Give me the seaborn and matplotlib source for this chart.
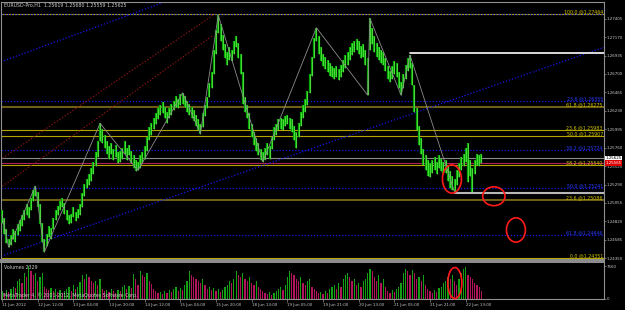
import numpy as np
import pandas as pd
import matplotlib
matplotlib.use("Agg")
import matplotlib.pyplot as plt
import seaborn as sns
from matplotlib.patches import Ellipse
from matplotlib.transforms import blended_transform_factory

# EURUSD-Pro H1 bars, first visible bar = 11 Jun 2012 20:00
lows = [
    1.2480, 1.2466, 1.2454, 1.2449, 1.2452, 1.2460, 1.2456, 1.2464, 1.2470, 1.2476,
    1.2484, 1.2490, 1.2486, 1.2496, 1.2508, 1.2514, 1.2500, 1.2478, 1.2456, 1.2443,
    1.2450, 1.2462, 1.2460, 1.2472, 1.2484, 1.2490, 1.2496, 1.2500, 1.2492, 1.2484,
    1.2478, 1.2480, 1.2488, 1.2482, 1.2486, 1.2490, 1.2500, 1.2514, 1.2524, 1.2528,
    1.2534, 1.2542, 1.2552, 1.2564, 1.2584, 1.2582, 1.2576, 1.2568, 1.2562, 1.2568,
    1.2560, 1.2564, 1.2556, 1.2558, 1.2562, 1.2568, 1.2560, 1.2566, 1.2556, 1.2550,
    1.2546, 1.2547, 1.2550, 1.2556, 1.2562, 1.2572, 1.2586, 1.2592, 1.2600, 1.2606,
    1.2612, 1.2618, 1.2620, 1.2614, 1.2608, 1.2614, 1.2618, 1.2624, 1.2628, 1.2626,
    1.2630, 1.2632, 1.2628, 1.2622, 1.2618, 1.2614, 1.2610, 1.2604, 1.2598, 1.2594,
    1.2602, 1.2616, 1.2626, 1.2640, 1.2652, 1.2670, 1.2696, 1.2722, 1.2712, 1.2700,
    1.2690, 1.2682, 1.2688, 1.2686, 1.2696, 1.2704, 1.2690, 1.2670, 1.2632, 1.2622,
    1.2614, 1.2600, 1.2590, 1.2580, 1.2572, 1.2566, 1.2560, 1.2558, 1.2560, 1.2566,
    1.2562, 1.2574, 1.2586, 1.2592, 1.2598, 1.2600, 1.2598, 1.2604, 1.2606, 1.2600,
    1.2596, 1.2586, 1.2575, 1.2590, 1.2604, 1.2614, 1.2622, 1.2630, 1.2646, 1.2668,
    1.2690, 1.2712, 1.2696, 1.2686, 1.2680, 1.2676, 1.2672, 1.2668, 1.2666, 1.2664,
    1.2666, 1.2662, 1.2666, 1.2672, 1.2678, 1.2682, 1.2688, 1.2694, 1.2698, 1.2700,
    1.2696, 1.2690, 1.2692, 1.2682, 1.2643, 1.2700, 1.2708, 1.2698, 1.2692, 1.2688,
    1.2684, 1.2682, 1.2674, 1.2664, 1.2660, 1.2664, 1.2670, 1.2666, 1.2652, 1.2643,
    1.2652, 1.2664, 1.2674, 1.2678, 1.2656, 1.2622, 1.2598, 1.2580, 1.2568, 1.2554,
    1.2548, 1.2540, 1.2538, 1.2544, 1.2548, 1.2542, 1.2550, 1.2546, 1.2542, 1.2544,
    1.2534, 1.2524, 1.2522, 1.2519, 1.2528, 1.2538, 1.2548, 1.2552, 1.2558, 1.2532,
    1.2540, 1.2519, 1.2542, 1.2554, 1.2552, 1.2556,
]
highs = [
    1.2496, 1.2486, 1.2472, 1.2460, 1.2464, 1.2472, 1.2470, 1.2478, 1.2484, 1.2490,
    1.2496, 1.2504, 1.2500, 1.2512, 1.2522, 1.2527, 1.2520, 1.2504, 1.2480, 1.2460,
    1.2466, 1.2476, 1.2474, 1.2486, 1.2496, 1.2502, 1.2508, 1.2512, 1.2506, 1.2496,
    1.2490, 1.2492, 1.2500, 1.2494, 1.2498, 1.2504, 1.2518, 1.2530, 1.2536, 1.2542,
    1.2550, 1.2558, 1.2570, 1.2584, 1.2607, 1.2600, 1.2592, 1.2584, 1.2578, 1.2582,
    1.2574, 1.2580, 1.2570, 1.2572, 1.2576, 1.2584, 1.2576, 1.2580, 1.2572, 1.2566,
    1.2560, 1.2558, 1.2566, 1.2570, 1.2578, 1.2590, 1.2602, 1.2608, 1.2614, 1.2620,
    1.2626, 1.2630, 1.2634, 1.2628, 1.2622, 1.2626, 1.2632, 1.2636, 1.2642, 1.2638,
    1.2644, 1.2646, 1.2642, 1.2636, 1.2632, 1.2628, 1.2624, 1.2618, 1.2612, 1.2606,
    1.2620, 1.2630, 1.2640, 1.2658, 1.2672, 1.2700, 1.2726, 1.2745, 1.2734, 1.2720,
    1.2708, 1.2698, 1.2704, 1.2700, 1.2712, 1.2718, 1.2710, 1.2696, 1.2672, 1.2640,
    1.2630, 1.2620, 1.2606, 1.2596, 1.2588, 1.2582, 1.2574, 1.2570, 1.2576, 1.2582,
    1.2578, 1.2590, 1.2602, 1.2606, 1.2612, 1.2614, 1.2612, 1.2616, 1.2618, 1.2614,
    1.2612, 1.2604, 1.2596, 1.2608, 1.2622, 1.2630, 1.2638, 1.2648, 1.2670, 1.2692,
    1.2716, 1.2729, 1.2718, 1.2704, 1.2696, 1.2692, 1.2688, 1.2684, 1.2680, 1.2678,
    1.2680, 1.2676, 1.2682, 1.2688, 1.2694, 1.2698, 1.2704, 1.2710, 1.2712, 1.2714,
    1.2712, 1.2706, 1.2708, 1.2700, 1.2690, 1.2741, 1.2728, 1.2718, 1.2710, 1.2704,
    1.2700, 1.2698, 1.2690, 1.2680, 1.2674, 1.2680, 1.2686, 1.2684, 1.2672, 1.2660,
    1.2670, 1.2682, 1.2690, 1.2694, 1.2684, 1.2656, 1.2626, 1.2604, 1.2588, 1.2574,
    1.2566, 1.2560, 1.2556, 1.2560, 1.2564, 1.2558, 1.2566, 1.2562, 1.2558, 1.2560,
    1.2552, 1.2546, 1.2540, 1.2536, 1.2548, 1.2556, 1.2564, 1.2568, 1.2576, 1.2582,
    1.2560, 1.2550, 1.2560, 1.2568, 1.2566, 1.2568,
]
volumes = [
    1840, 1380, 2070, 1610, 2300, 2760, 2530, 4140, 4600, 3680,
    5980, 5060, 7560, 6440, 5520, 5980, 4140, 5060, 5980, 2760, 2300,
    2070, 2530, 1840, 2300, 1610, 2070, 1380, 1840,
    2300, 2760, 1840, 3220, 2300, 2760,
    3910, 5520, 4600, 5750, 5060, 4140,
    3680, 4140, 3220, 4600, 2300, 1840,
    2070, 1610, 2300, 1840, 1380, 2070,
    1840, 2760, 3220, 2300, 2990, 2530,
    5750, 4600, 3220, 6440, 5520, 5060,
    5980, 4140, 3450, 2300, 1840, 1380,
    1610, 1150, 1840, 1380, 2070, 1610,
    2300, 2760, 1840, 2530, 2070, 3220,
    4140, 6440, 5520, 5060, 4600, 4140,
    3680, 4600, 3220, 2300, 2760, 2070,
    2530, 1840, 2300, 1610, 2070, 2760,
    3220, 4140, 3680, 4600, 6440, 5520,
    5060, 5980, 4600, 4140, 5060, 3680,
    3220, 4140, 2760, 2300, 1840, 1380,
    1150, 1610, 920, 1380, 1840, 2300,
    2760, 2070, 3220, 5060, 6440, 5980,
    5520, 4600, 4140, 5060, 3680, 3220,
    4140, 4600, 2760, 2300, 1840, 1380,
    1610, 1150, 1840, 1380, 2300, 2760,
    3220, 2300, 3680, 2760, 4600, 5520,
    5980, 5060, 4140, 4600, 3220, 3680,
    2760, 4140, 4600, 5980, 6900, 6440,
    5060, 4140, 5520, 3680, 4600, 2760,
    1840, 1380, 2070, 1610, 2300, 2760,
    3680, 5980, 6900, 6440, 5520, 6670,
    5980, 4600, 5060, 4140, 5520, 3220,
    2300, 1840, 1380, 2070, 1610, 2530,
    2760, 3680, 4140, 5060, 4600, 5520,
    4140, 3220, 4600, 5980, 6900, 7360,
    5520, 5060, 4600, 3680, 3220, 2760, 1840,
]

tick_bars = [0, 16, 32, 48, 64, 80, 96, 112, 128, 144, 160, 176, 192, 208]
tick_labels = ["11 Jun 2012", "12 Jun 12:00", "13 Jun 04:00", "13 Jun 20:00",
               "14 Jun 12:00", "15 Jun 04:00", "15 Jun 20:00", "18 Jun 13:00",
               "19 Jun 05:00", "19 Jun 21:00", "20 Jun 13:00", "21 Jun 05:00",
               "21 Jun 21:00", "22 Jun 13:00"]

# zigzag pivots (bar, price)
zz_bars = [0, 3, 15, 19, 44, 61, 81, 89, 97, 117, 141, 164, 165, 179, 183, 203]
zz_prices = [1.2490, 1.2449, 1.2527, 1.2443, 1.2607, 1.2547, 1.2646, 1.2594,
             1.2745, 1.2558, 1.2729, 1.2643, 1.2741, 1.2643, 1.2694, 1.2519]

# fibonacci levels (level, price)
fib_yellow = [("100.0", 1.27464), ("61.8", 1.26275), ("50.0", 1.25907),
              ("38.2", 1.25540), ("23.6", 1.25086), ("0.0", 1.24351)]
fib_yellow2 = [("23.6", 1.25983)]
fib_blue = [("23.6", 1.26355), ("38.2", 1.25724), ("50.0", 1.25241), ("61.8", 1.24646)]

bid, ask = 1.25625, 1.25565
ray_white = (183, 1.2697)
ray_gray = (203, 1.2518)

# trend / channel lines: (bar0, price0, bar1, price1)
channel_blue = [(0, 1.2686, 75, 1.2764), (0, 1.2438, 270, 1.2704)]
lines_red = [(-0.9, 1.25603, 95.5, 1.27465), (-0.9, 1.25246, 94.2, 1.27184)]

# hand-drawn red marks: (bar, value, width in bars, height)
marks_price = [(201.8, 1.2536, 8.5, 0.0036), (220.6, 1.2514, 10.0, 0.0024),
               (230.5, 1.2471, 8.5, 0.0031)]
marks_volume = [(203.1, 3660, 6.3, 7100)]

price_ticks = [1.27405 - 0.00235 * n for n in range(14)]

sns.set_style("dark", {"axes.facecolor": "black", "figure.facecolor": "black"})
plt.rcParams["font.family"] = ["DejaVu Sans"]

TXT = "#c8c8c8"
GRID = "#909090"
fs = 3.4
fs_axis = 2.9

fig = plt.figure(figsize=(6.25, 3.10), dpi=100)
fig.patch.set_facecolor("black")
ax = fig.add_axes([1 / 625, 50 / 310, 603 / 625, 258 / 310])
axv = fig.add_axes([1 / 625, 11 / 310, 603 / 625, 37 / 310], sharex=ax)

bars = np.arange(len(lows))
x_max = 270

for a in (ax, axv):
    a.set_facecolor("black")
    for s in a.spines.values():
        s.set_color(GRID)
        s.set_linewidth(0.8)
    a.yaxis.tick_right()
    a.tick_params(axis="y", colors=GRID, labelcolor=TXT, labelsize=fs_axis,
                  length=1.5, width=0.5, pad=0.6, right=True, left=False)
    a.grid(False)
ax.spines["bottom"].set_linewidth(1.4)
axv.spines["top"].set_linewidth(1.4)

ax.set_xlim(-0.45, x_max)
ax.set_ylim(1.24327, 1.27618)
ax.set_yticks(price_ticks)
ax.set_yticklabels([f"{p:.5f}" for p in price_ticks])
ax.tick_params(axis="x", bottom=False, labelbottom=False)

# fibonacci levels
ytrans = blended_transform_factory(ax.transAxes, ax.transData)
for lvl, p in fib_yellow:
    olive = lvl in ("61.8", "23.6")
    ax.axhline(p, color="#7a6a18" if olive else "#b4a400",
               lw=1.3 if olive else 0.8, zorder=1)
    ax.text(0.998, p, f"{lvl} @{p:.5f}", transform=ytrans, ha="right", va="bottom",
            color="#d4c400", fontsize=fs, zorder=6)
for lvl, p in fib_yellow2:
    ax.axhline(p, color="#b4a400", lw=0.8, zorder=1)
    ax.text(0.998, p, f"{lvl} @{p:.5f}", transform=ytrans, ha="right", va="bottom",
            color="#d4c400", fontsize=fs, zorder=6)
for lvl, p in fib_blue:
    ax.axhline(p, color="#1818e8", lw=0.9, ls=(0, (1, 1.5)), zorder=1)
    ax.text(0.998, p, f"{lvl} @{p:.5f}", transform=ytrans, ha="right", va="bottom",
            color="#2a3cff", fontsize=fs, zorder=6)
ax.axhline(fib_yellow[0][1], color="#1818e8", lw=0.9, ls=(0, (1, 1.5)), zorder=1)

# bid / ask
ax.axhline(bid, color="#8a8a8a", lw=0.8, zorder=1)
ax.axhline(ask, color="#b0205a", lw=0.8, zorder=1)

# horizontal rays
ax.plot([ray_white[0], x_max], [ray_white[1]] * 2, color="white", lw=1.2, zorder=2)
ax.plot([ray_gray[0], x_max], [ray_gray[1]] * 2, color="#b8b8b8", lw=1.5, zorder=2)

# channel and trend lines
for b0, p0, b1, p1 in channel_blue:
    ax.axline((b0, p0), (b1, p1), color="#1818e8", lw=0.9, ls=(0, (1, 1.5)), zorder=1)
for b0, p0, b1, p1 in lines_red:
    ax.plot([b0, b1], [p0, p1], color="#8b1414", lw=0.9, ls=(0, (1, 1.5)), zorder=1)

# price bars
ax.vlines(bars, lows, highs, color="#00a800", lw=1.6, zorder=3)
ax.vlines(bars, lows, highs, color="#7cf060", lw=0.45, zorder=3)

# zigzag
sns.lineplot(x=zz_bars, y=zz_prices, sort=False, color="#8c8c8c", lw=0.6,
             ax=ax, zorder=4)

# freehand marks
for b, p, w, h in marks_price:
    ax.add_patch(Ellipse((b, p), w, h, fill=False, ec="#ff1a1a", lw=1.2,
                         clip_on=False, zorder=7))

# price boxes on the axis
ax.text(1.002, bid, f"{bid:.5f}", transform=ytrans, ha="left", va="center",
        fontsize=fs_axis, color="black", zorder=8, clip_on=False,
        bbox=dict(fc="white", ec="none", pad=0.4))
ax.text(1.002, ask, f"{ask:.5f}", transform=ytrans, ha="left", va="center",
        fontsize=fs_axis, color="white", zorder=9, clip_on=False,
        bbox=dict(fc="#e00000", ec="none", pad=0.4))

fig.text(4 / 625, 1 - 3 / 310, "EURUSD-Pro,H1  1.25619 1.25680 1.25559 1.25625",
         ha="left", va="top", color=TXT, fontsize=fs)

# volumes
df = pd.DataFrame({"bar": bars, "vol": volumes})
df["dir"] = np.where(df["vol"].diff().fillna(1) >= 0, "up", "down")
sns.barplot(data=df, x="bar", y="vol", hue="dir", native_scale=True, dodge=False,
            palette={"up": "#14a014", "down": "#b0145a"}, width=0.55,
            saturation=1, linewidth=0, legend=False, ax=axv)
axv.set_ylim(0, 7560 * 37 / 33)
axv.set_yticks([0, 7560])
axv.set_yticklabels(["0", "7560"])
axv.set_ylabel("")
axv.set_xlabel("")
axv.set_xticks(tick_bars)
axv.set_xticklabels(tick_labels, ha="left")
axv.tick_params(axis="x", colors=GRID, labelcolor=TXT, labelsize=fs_axis,
                length=2, width=0.5, pad=1, bottom=True)
axv.set_xlim(-0.45, x_max)
for b, v, w, h in marks_volume:
    axv.add_patch(Ellipse((b, v), w, h, fill=False, ec="#ff1a1a", lw=1.2,
                          clip_on=False, zorder=7))
axv.text(0.005, 0.85, "Volumes 2329", transform=axv.transAxes, ha="left",
         va="center", color=TXT, fontsize=fs)
axv.text(0.003, 0.1, "MetaTrader 4, \u00a9 2001-2012, MetaQuotes Software Corp.",
         transform=axv.transAxes, ha="left", va="center", color=TXT, fontsize=fs,
         zorder=6)

fig.savefig("out.png", dpi=100, facecolor="black")
